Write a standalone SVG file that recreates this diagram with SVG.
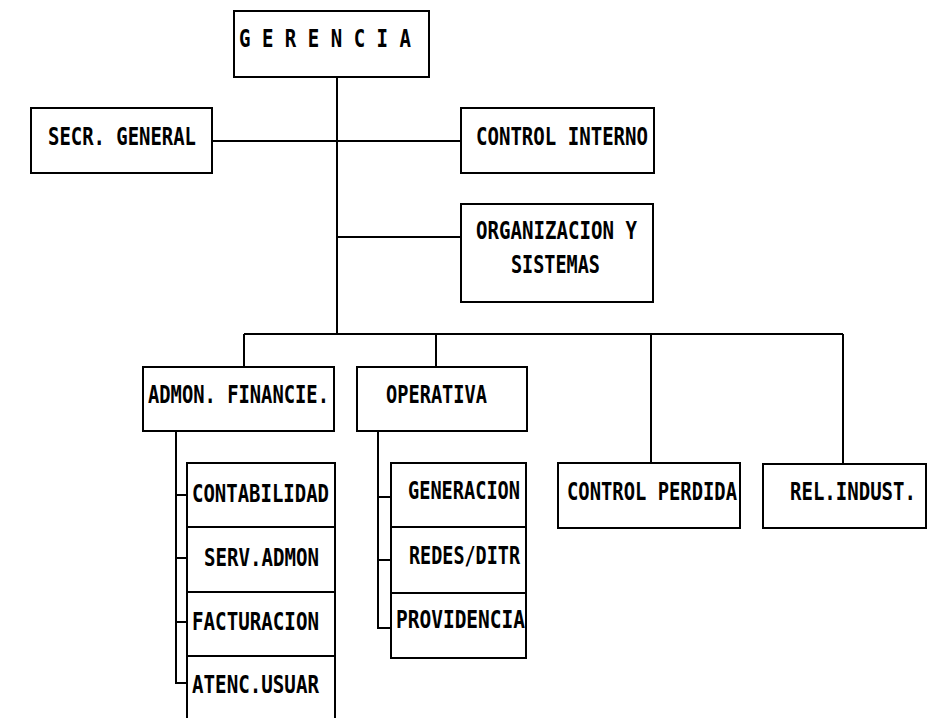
<svg xmlns="http://www.w3.org/2000/svg" width="929" height="718" viewBox="0 0 929 718">
<style>
.box{fill:#fff;stroke:#000;stroke-width:2}
.ln{fill:none;stroke:#000;stroke-width:2}
text{font-family:"DejaVu Sans Mono","Liberation Mono",monospace;font-size:25px;fill:#000;font-weight:bold}
</style>
<rect width="929" height="718" fill="#fff"/>
<g id="connectors">
<path class="ln" d="M337 77V334M212 141H461M337 237H461M244 334H843M244 334V367M436 334V367M651 334V463M843 334V464"/>
<path class="ln" d="M176 431V683H187M176 495H187M176 558H187M176 622H187"/>
<path class="ln" d="M378 431V628H391M378 497H391M378 560H391"/>
</g>
<g id="gerencia"><rect class="box" x="234" y="11" width="195" height="66"/><text x="239" y="47" textLength="172" lengthAdjust="spacingAndGlyphs">G E R E N C I A</text></g>
<g id="secr-general"><rect class="box" x="31" y="108" width="181" height="65"/><text x="48" y="145" textLength="148" lengthAdjust="spacingAndGlyphs">SECR. GENERAL</text></g>
<g id="control-interno"><rect class="box" x="461" y="108" width="193" height="65"/><text x="476" y="145" textLength="172" lengthAdjust="spacingAndGlyphs">CONTROL INTERNO</text></g>
<g id="organizacion-sistemas"><rect class="box" x="461" y="204" width="192" height="98"/><text x="476" y="239" textLength="161" lengthAdjust="spacingAndGlyphs">ORGANIZACION Y</text><text x="511" y="273" textLength="89" lengthAdjust="spacingAndGlyphs">SISTEMAS</text></g>
<g id="admon-financie"><rect class="box" x="143" y="367" width="191" height="64"/><text x="148" y="403" textLength="181" lengthAdjust="spacingAndGlyphs">ADMON. FINANCIE.</text></g>
<g id="operativa"><rect class="box" x="357" y="367" width="170" height="64"/><text x="386" y="403" textLength="101" lengthAdjust="spacingAndGlyphs">OPERATIVA</text></g>
<g id="contabilidad"><rect class="box" x="187" y="463" width="148" height="64"/><text x="192" y="502" textLength="137" lengthAdjust="spacingAndGlyphs">CONTABILIDAD</text></g>
<g id="serv-admon"><rect class="box" x="187" y="527" width="148" height="65"/><text x="204" y="566" textLength="115" lengthAdjust="spacingAndGlyphs">SERV.ADMON</text></g>
<g id="facturacion"><rect class="box" x="187" y="592" width="148" height="64"/><text x="192" y="630" textLength="127" lengthAdjust="spacingAndGlyphs">FACTURACION</text></g>
<g id="atenc-usuar"><rect class="box" x="187" y="656" width="148" height="80"/><text x="192" y="693" textLength="127" lengthAdjust="spacingAndGlyphs">ATENC.USUAR</text></g>
<g id="generacion"><rect class="box" x="391" y="463" width="135" height="64"/><text x="408" y="499" textLength="112" lengthAdjust="spacingAndGlyphs">GENERACION</text></g>
<g id="redes-ditr"><rect class="box" x="391" y="527" width="135" height="66"/><text x="409" y="564" textLength="111" lengthAdjust="spacingAndGlyphs">REDES/DITR</text></g>
<g id="providencia"><rect class="box" x="391" y="593" width="135" height="65"/><text x="396" y="628" textLength="129" lengthAdjust="spacingAndGlyphs">PROVIDENCIA</text></g>
<g id="control-perdida"><rect class="box" x="558" y="463" width="182" height="65"/><text x="567" y="500" textLength="170" lengthAdjust="spacingAndGlyphs">CONTROL PERDIDA</text></g>
<g id="rel-indust"><rect class="box" x="763" y="464" width="163" height="64"/><text transform="translate(790 500) scale(0.761 1)">REL.INDUST.</text></g>
</svg>
